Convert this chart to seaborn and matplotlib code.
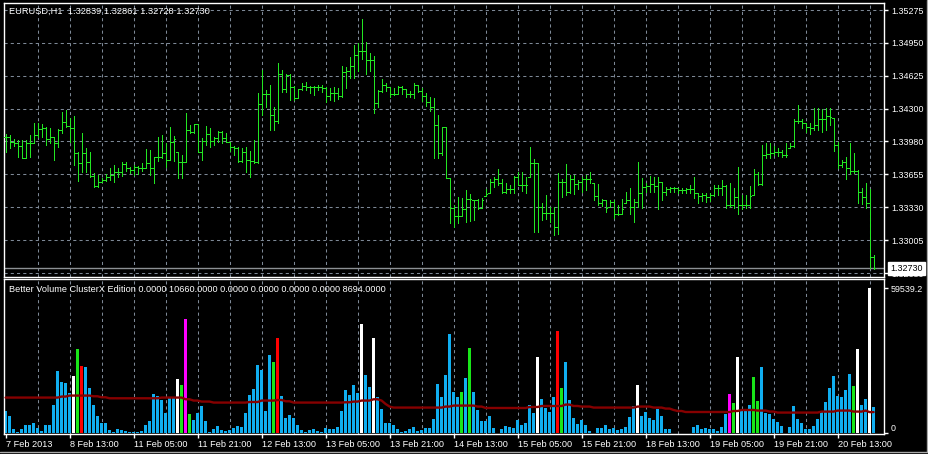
import numpy as np
import pandas as pd
import seaborn as sns
import matplotlib
matplotlib.use("Agg")
import matplotlib.pyplot as plt
from matplotlib.lines import Line2D

# EURUSD H1, 7 Feb 2013 21:00 .. 20 Feb 2013 22:00 (MT4 screenshot)
open_ = [
    1.3402, 1.3402, 1.3397, 1.3396, 1.3394, 1.3382, 1.3396, 1.3396, 1.3404, 1.3410,
    1.3411, 1.3400, 1.3402, 1.3396, 1.3409, 1.3417, 1.3413, 1.3411, 1.3387, 1.3377,
    1.3387, 1.3378, 1.3364, 1.3354, 1.3358, 1.3360, 1.3363, 1.3365, 1.3368, 1.3368,
    1.3376, 1.3372, 1.3370, 1.3373, 1.3372, 1.3372, 1.3377, 1.3372, 1.3383, 1.3383,
    1.3387, 1.3380, 1.3397, 1.3388, 1.3378, 1.3378, 1.3409, 1.3407, 1.3415, 1.3388,
    1.3398, 1.3405, 1.3398, 1.3401, 1.3407, 1.3401, 1.3397, 1.3393, 1.3392, 1.3379,
    1.3388, 1.3380, 1.3379, 1.3378, 1.3435, 1.3445, 1.3445, 1.3424, 1.3418, 1.3464,
    1.3450, 1.3463, 1.3452, 1.3441, 1.3450, 1.3453, 1.3452, 1.3452, 1.3452, 1.3452,
    1.3451, 1.3443, 1.3446, 1.3446, 1.3443, 1.3466, 1.3467, 1.3472, 1.3483, 1.3487,
    1.3487, 1.3478, 1.3478, 1.3436, 1.3448, 1.3454, 1.3452, 1.3445, 1.3445, 1.3452,
    1.3450, 1.3445, 1.3445, 1.3454, 1.3448, 1.3443, 1.3437, 1.3432, 1.3414, 1.3387,
    1.3412, 1.3362, 1.3332, 1.3325, 1.3325, 1.3331, 1.3341, 1.3340, 1.3340, 1.3332,
    1.3344, 1.3347, 1.3358, 1.3361, 1.3357, 1.3348, 1.3351, 1.3351, 1.3363, 1.3355,
    1.3355, 1.3363, 1.3377, 1.3377, 1.3333, 1.3328, 1.3328, 1.3328, 1.3314, 1.3358,
    1.3358, 1.3348, 1.3361, 1.3356, 1.3358, 1.3361, 1.3361, 1.3357, 1.3344, 1.3337,
    1.3340, 1.3333, 1.3338, 1.3327, 1.3327, 1.3337, 1.3340, 1.3333, 1.3338, 1.3347,
    1.3353, 1.3354, 1.3356, 1.3354, 1.3358, 1.3348, 1.3351, 1.3352, 1.3352, 1.3350,
    1.3350, 1.3351, 1.3351, 1.3347, 1.3344, 1.3345, 1.3343, 1.3345, 1.3352, 1.3352,
    1.3354, 1.3335, 1.3335, 1.3343, 1.3335, 1.3335, 1.3335, 1.3345, 1.3366, 1.3356,
    1.3385, 1.3386, 1.3387, 1.3388, 1.3388, 1.3385, 1.3392, 1.3394, 1.3418, 1.3418,
    1.3416, 1.3412, 1.3411, 1.3414, 1.3420, 1.3420, 1.3423, 1.3421, 1.3395, 1.3375,
    1.3378, 1.3372, 1.3369, 1.3369, 1.3348, 1.3343, 1.3337, 1.32839,
]
high = [
    1.3405, 1.3404, 1.3400, 1.3399, 1.3399, 1.3399, 1.3404, 1.3416, 1.3416, 1.3415,
    1.3412, 1.3411, 1.3402, 1.3410, 1.3427, 1.3429, 1.3421, 1.3423, 1.3388, 1.3406,
    1.3392, 1.3388, 1.3367, 1.3365, 1.3362, 1.3366, 1.3372, 1.3375, 1.3372, 1.3378,
    1.3378, 1.3373, 1.3375, 1.3374, 1.3377, 1.3391, 1.3390, 1.3383, 1.3402, 1.3404,
    1.3396, 1.3412, 1.3403, 1.3388, 1.3385, 1.3426, 1.3414, 1.3415, 1.3415, 1.3401,
    1.3413, 1.3411, 1.3402, 1.3408, 1.3408, 1.3406, 1.3397, 1.3394, 1.3393, 1.3392,
    1.3393, 1.3389, 1.3399, 1.3446, 1.3468, 1.3449, 1.3454, 1.3432, 1.3475, 1.3468,
    1.3464, 1.3464, 1.3453, 1.3450, 1.3456, 1.3457, 1.3453, 1.3453, 1.3454, 1.3454,
    1.3452, 1.3451, 1.3452, 1.3451, 1.3472, 1.3471, 1.3481, 1.3493, 1.3495, 1.3519,
    1.3496, 1.3485, 1.3482, 1.3449, 1.3460, 1.3456, 1.3452, 1.3451, 1.3453, 1.3453,
    1.3450, 1.3448, 1.3456, 1.3454, 1.3451, 1.3446, 1.3442, 1.3441, 1.3424, 1.3412,
    1.3412, 1.3362, 1.3335, 1.3343, 1.3342, 1.3350, 1.3346, 1.3340, 1.3341, 1.3342,
    1.3351, 1.3361, 1.3363, 1.3371, 1.3361, 1.3357, 1.3355, 1.3364, 1.3368, 1.3368,
    1.3363, 1.3393, 1.3381, 1.3377, 1.3337, 1.3345, 1.3333, 1.3333, 1.3367, 1.3361,
    1.3376, 1.3365, 1.3365, 1.3360, 1.3363, 1.3365, 1.3368, 1.3357, 1.3356, 1.3341,
    1.3340, 1.3340, 1.3340, 1.3335, 1.3341, 1.3348, 1.3352, 1.3341, 1.3378, 1.3362,
    1.3357, 1.3364, 1.3363, 1.3363, 1.3358, 1.3353, 1.3353, 1.3353, 1.3352, 1.3352,
    1.3352, 1.3355, 1.3363, 1.3347, 1.3347, 1.3347, 1.3347, 1.3355, 1.3355, 1.3360,
    1.3355, 1.3357, 1.3352, 1.3373, 1.3345, 1.3345, 1.3354, 1.3371, 1.3368, 1.3395,
    1.3396, 1.3396, 1.3394, 1.3392, 1.3390, 1.3396, 1.3396, 1.3420, 1.3434, 1.3420,
    1.3416, 1.3416, 1.3431, 1.3431, 1.3430, 1.3431, 1.3431, 1.3421, 1.3397, 1.3380,
    1.3383, 1.3396, 1.3387, 1.3370, 1.3352, 1.3357, 1.3351, 1.32861,
]
low = [
    1.3388, 1.3392, 1.3394, 1.3383, 1.3382, 1.3382, 1.3383, 1.3396, 1.3402, 1.3402,
    1.3395, 1.3396, 1.3380, 1.3393, 1.3406, 1.3412, 1.3397, 1.3375, 1.3359, 1.3368,
    1.3368, 1.3363, 1.3353, 1.3353, 1.3358, 1.3359, 1.3360, 1.3358, 1.3363, 1.3364,
    1.3369, 1.3367, 1.3365, 1.3366, 1.3369, 1.3372, 1.3365, 1.3357, 1.3379, 1.3382,
    1.3373, 1.3380, 1.3379, 1.3362, 1.3362, 1.3378, 1.3406, 1.3406, 1.3388, 1.3380,
    1.3395, 1.3393, 1.3395, 1.3397, 1.3396, 1.3397, 1.3389, 1.3385, 1.3378, 1.3378,
    1.3368, 1.3363, 1.3377, 1.3377, 1.3424, 1.3432, 1.3409, 1.3409, 1.3416, 1.3447,
    1.3447, 1.3439, 1.3439, 1.3441, 1.3449, 1.3449, 1.3446, 1.3444, 1.3449, 1.3447,
    1.3437, 1.3439, 1.3438, 1.3440, 1.3442, 1.3451, 1.3461, 1.3461, 1.3467, 1.3479,
    1.3464, 1.3467, 1.3426, 1.3432, 1.3447, 1.3448, 1.3442, 1.3444, 1.3445, 1.3445,
    1.3442, 1.3442, 1.3441, 1.3447, 1.3438, 1.3433, 1.3428, 1.3382, 1.3382, 1.3385,
    1.3362, 1.3318, 1.3314, 1.3318, 1.3325, 1.3319, 1.3320, 1.3321, 1.3331, 1.3332,
    1.3344, 1.3347, 1.3353, 1.3355, 1.3347, 1.3347, 1.3347, 1.3347, 1.3355, 1.3349,
    1.3347, 1.3363, 1.3309, 1.3309, 1.3321, 1.3322, 1.3319, 1.3306, 1.3307, 1.3343,
    1.3345, 1.3347, 1.3346, 1.3351, 1.3348, 1.3350, 1.3357, 1.3340, 1.3335, 1.3334,
    1.3329, 1.3333, 1.3323, 1.3326, 1.3327, 1.3337, 1.3327, 1.3319, 1.3333, 1.3332,
    1.3348, 1.3348, 1.3348, 1.3331, 1.3340, 1.3345, 1.3348, 1.3348, 1.3347, 1.3347,
    1.3347, 1.3347, 1.3342, 1.3337, 1.3339, 1.3338, 1.3339, 1.3344, 1.3345, 1.3345,
    1.3332, 1.3333, 1.3332, 1.3327, 1.3331, 1.3332, 1.3332, 1.3345, 1.3355, 1.3355,
    1.3382, 1.3382, 1.3385, 1.3384, 1.3383, 1.3383, 1.3392, 1.3393, 1.3416, 1.3411,
    1.3407, 1.3405, 1.3409, 1.3409, 1.3407, 1.3409, 1.3414, 1.3389, 1.3372, 1.3373,
    1.3361, 1.3366, 1.3367, 1.3337, 1.3336, 1.3332, 1.3273, 1.32728,
]
close = [
    1.3402, 1.3397, 1.3396, 1.3394, 1.3382, 1.3396, 1.3396, 1.3404, 1.3410, 1.3411,
    1.3400, 1.3402, 1.3396, 1.3409, 1.3417, 1.3413, 1.3411, 1.3387, 1.3377, 1.3387,
    1.3378, 1.3364, 1.3354, 1.3358, 1.3360, 1.3363, 1.3365, 1.3368, 1.3368, 1.3376,
    1.3372, 1.3370, 1.3373, 1.3372, 1.3372, 1.3377, 1.3372, 1.3383, 1.3383, 1.3387,
    1.3380, 1.3397, 1.3400, 1.3378, 1.3378, 1.3409, 1.3407, 1.3415, 1.3388, 1.3398,
    1.3405, 1.3398, 1.3401, 1.3407, 1.3401, 1.3397, 1.3393, 1.3392, 1.3379, 1.3388,
    1.3380, 1.3379, 1.3378, 1.3435, 1.3445, 1.3445, 1.3424, 1.3418, 1.3464, 1.3450,
    1.3463, 1.3452, 1.3441, 1.3450, 1.3453, 1.3452, 1.3452, 1.3452, 1.3452, 1.3451,
    1.3443, 1.3446, 1.3446, 1.3443, 1.3466, 1.3467, 1.3472, 1.3483, 1.3487, 1.3487,
    1.3478, 1.3478, 1.3436, 1.3448, 1.3454, 1.3452, 1.3445, 1.3445, 1.3452, 1.3450,
    1.3445, 1.3445, 1.3454, 1.3448, 1.3443, 1.3437, 1.3432, 1.3414, 1.3387, 1.3412,
    1.3362, 1.3332, 1.3325, 1.3325, 1.3331, 1.3341, 1.3341, 1.3340, 1.3332, 1.3340,
    1.3346, 1.3358, 1.3361, 1.3357, 1.3348, 1.3351, 1.3351, 1.3363, 1.3355, 1.3355,
    1.3355, 1.3377, 1.3377, 1.3333, 1.3328, 1.3328, 1.3328, 1.3314, 1.3358, 1.3358,
    1.3348, 1.3361, 1.3356, 1.3358, 1.3361, 1.3361, 1.3361, 1.3344, 1.3337, 1.3340,
    1.3332, 1.3338, 1.3327, 1.3327, 1.3331, 1.3340, 1.3333, 1.3338, 1.3347, 1.3353,
    1.3354, 1.3356, 1.3354, 1.3358, 1.3348, 1.3351, 1.3352, 1.3352, 1.3350, 1.3350,
    1.3351, 1.3351, 1.3347, 1.3344, 1.3345, 1.3343, 1.3345, 1.3352, 1.3352, 1.3354,
    1.3335, 1.3335, 1.3343, 1.3335, 1.3335, 1.3335, 1.3344, 1.3366, 1.3356, 1.3385,
    1.3386, 1.3387, 1.3388, 1.3388, 1.3385, 1.3385, 1.3394, 1.3418, 1.3418, 1.3416,
    1.3412, 1.3411, 1.3414, 1.3420, 1.3420, 1.3423, 1.3422, 1.3395, 1.3375, 1.3378,
    1.3372, 1.3369, 1.3369, 1.3348, 1.3343, 1.3337, 1.3284, 1.32730,
]

# tick volume per bar
volume = [
    9020, 6970, 1640, 410, 1640, 3280, 3280, 4100, 2050, 820,
    3280, 3280, 11480, 25420, 20910, 20500, 16400, 23370, 34440, 27470,
    27060, 18450, 11480, 6970, 4100, 4100, 1230, 410, 1640, 1230,
    820, 410, 410, 410, 820, 3280, 4920, 15990, 15170, 13530,
    8200, 14760, 14760, 22140, 19680, 46740, 7790, 5330, 8200, 11070,
    4920, 410, 1640, 2870, 1230, 820, 1230, 2050, 2870, 2460,
    8200, 15580, 18040, 27880, 25830, 9020, 31980, 29110, 38950, 15170,
    6150, 7380, 6150, 3280, 1230, 410, 1230, 1640, 820, 410,
    2050, 1640, 1640, 2460, 9020, 17630, 15580, 19680, 16400, 44690,
    23780, 18860, 38950, 14760, 9840, 4100, 4100, 3280, 1640, 410,
    820, 1640, 2460, 820, 1230, 2050, 2050, 5740, 20090, 14760,
    23780, 40590, 16810, 14760, 16810, 22550, 34850, 16810, 9430, 4920,
    4920, 6970, 2050, 200, 1640, 2870, 2460, 2050, 5330, 3280,
    4100, 11480, 8200, 31160, 13940, 10250, 8610, 14760, 41820, 18450,
    29110, 13530, 6150, 3690, 5330, 3280, 820, 200, 2050, 2050,
    3280, 1640, 2050, 1230, 1640, 2460, 6560, 11070, 19680, 6970,
    8610, 6150, 5330, 9840, 6970, 1640, 1640, 200, 150, 150,
    150, 200, 2460, 3280, 1640, 2050, 1640, 1640, 820, 2460,
    7790, 15990, 12300, 31160, 9020, 9020, 11480, 22960, 13120, 27060,
    8200, 7790, 5740, 4510, 2870, 200, 2460, 11070, 5740, 4100,
    1640, 1640, 2870, 5740, 9020, 12710, 18450, 23370, 15170, 14760,
    17630, 24190, 19270, 34440, 11480, 13940, 59539.2, 10660,
]

# average volume line of the indicator
avg_volume = [
    14640, 14640, 14640, 14640, 14640, 14640, 14640, 14640, 14640, 14640,
    14640, 14640, 14640, 14640, 15050, 15050, 15460, 15460, 15460, 15460,
    15460, 15460, 15170, 15170, 14760, 14760, 14350, 14350, 14350, 14350,
    14350, 14350, 14350, 14350, 14350, 14350, 14350, 14350, 14350, 14640,
    14640, 14640, 14640, 14640, 14640, 13940, 13940, 13410, 13410, 13000,
    13000, 13000, 12590, 12590, 12590, 12590, 12590, 12590, 12590, 12590,
    12590, 12830, 12830, 12830, 13410, 13410, 13410, 13410, 13650, 13650,
    13120, 13120, 12590, 12590, 12590, 12590, 12590, 12590, 12590, 12590,
    12590, 12590, 12590, 12590, 12590, 12710, 12710, 13000, 13000, 13410,
    13410, 13410, 13940, 13940, 13410, 12010, 10950, 10540, 10540, 10540,
    10540, 10540, 10540, 10540, 10540, 10540, 10540, 10540, 10540, 10540,
    10950, 10950, 11360, 11360, 11360, 11360, 11360, 11360, 10950, 10950,
    10370, 10370, 10370, 10370, 10370, 10370, 10370, 10370, 10370, 10370,
    10370, 10780, 10780, 10780, 11190, 11190, 11190, 11190, 11190, 11190,
    11770, 11770, 11190, 11190, 10950, 10950, 10950, 10540, 10540, 10540,
    10540, 10540, 10540, 10540, 10540, 10540, 10540, 10540, 10950, 10950,
    10950, 10950, 10540, 10540, 10540, 10130, 10130, 9550, 9140, 9140,
    8730, 8730, 8730, 8730, 8730, 8730, 8730, 8730, 8730, 8730,
    8730, 8730, 9140, 9140, 9550, 9550, 9550, 9550, 9310, 9310,
    9310, 8900, 8900, 8490, 8490, 8490, 8490, 8490, 8490, 8490,
    8490, 8490, 8490, 8490, 8900, 8900, 8900, 8900, 9310, 9310,
    9310, 9310, 8900, 8900, 8900, 9310, 8694, 8694,
]

# bars flagged by the indicator
climax_up_bars = [19, 68, 138]
climax_down_bars = [17, 43, 89, 92, 133, 158, 183, 213, 216]
churn_bars = [18, 44, 46, 67, 114, 116, 139, 182, 187, 188, 212]
climax_churn_bars = [45, 181]

price_levels = [1.35275, 1.34950, 1.34625, 1.34300, 1.33980,
                1.33655, 1.33330, 1.33005, 1.32680]
time_labels = ["7 Feb 2013", "8 Feb 13:00", "11 Feb 05:00", "11 Feb 21:00",
               "12 Feb 13:00", "13 Feb 05:00", "13 Feb 21:00", "14 Feb 13:00",
               "15 Feb 05:00", "15 Feb 21:00", "18 Feb 13:00", "19 Feb 05:00",
               "19 Feb 21:00", "20 Feb 13:00"]
time_label_bars = list(range(0, 209, 16))
volume_levels = [0, 59539.2]

BAR_GREEN = "#22e622"
GRID = "#7d8896"
palette = {"normal": "#10aef0", "climax_up": "#ff0000", "climax_down": "#ffffff",
           "churn": "#19e619", "climax_churn": "#ff00ff"}

n = len(close)
bars = np.arange(n)
signal = ["normal"] * n
for i in climax_up_bars:
    signal[i] = "climax_up"
for i in climax_down_bars:
    signal[i] = "climax_down"
for i in churn_bars:
    signal[i] = "churn"
for i in climax_churn_bars:
    signal[i] = "climax_churn"
df = pd.DataFrame({"bar": bars, "volume": volume, "signal": signal, "avg": avg_volume})

sns.set_style("dark", {"axes.facecolor": "black", "figure.facecolor": "black",
                       "axes.edgecolor": "white"})
plt.rcParams["font.family"] = ["Liberation Sans", "DejaVu Sans"]

W, H = 929, 454
fig = plt.figure(figsize=(W / 100, H / 100), dpi=100, facecolor="black")
ax = fig.add_axes([4 / W, 1 - 277.3 / H, 880 / W, 274 / H])
axv = fig.add_axes([4 / W, 1 - 434 / H, 880 / W, 154.7 / H])

x_lo, x_hi = -0.4, 219.6
vgrid = np.arange(8, n, 8)

# ---- price panel (OHLC bars, 1 px wide like the terminal draws them)
for lvl in price_levels:
    ax.axhline(lvl, color=GRID, lw=0.75, dashes=(3, 3), zorder=1)
for g in vgrid:
    ax.axvline(g, color=GRID, lw=0.75, dashes=(3, 3), zorder=1)
ax.axhline(close[-1], color="#8c9094", lw=1, zorder=2)
ax.vlines(bars, low, high, color=BAR_GREEN, lw=0.72, antialiased=False, zorder=3)
ax.hlines(open_, bars - 0.3, bars, color=BAR_GREEN, lw=0.72, antialiased=False, zorder=3)
ax.hlines(close, bars, bars + 0.3, color=BAR_GREEN, lw=0.72, antialiased=False, zorder=3)

ax.set_xlim(x_lo, x_hi)
ax.set_ylim(1.32642, 1.35341)
ax.set_xticks([])
ax.yaxis.tick_right()
ax.set_yticks(price_levels)
ax.set_yticklabels([f"{p:.5f}" for p in price_levels])
ax.tick_params(axis="y", colors="white", labelcolor="white", length=3, width=1,
               pad=2, labelsize=6.4, right=True, left=False)
ax.annotate(f"{close[-1]:.5f}", xy=(1, close[-1]), xycoords=("axes fraction", "data"),
            xytext=(4.5, 0), textcoords="offset points", ha="left", va="center",
            fontsize=6.4, color="black", annotation_clip=False, zorder=10,
            bbox=dict(boxstyle="square,pad=0.22", fc="white", ec="white"))
ax.text(0.006, 0.969,
        f"EURUSD,H1  {open_[-1]:.5f} {high[-1]:.5f} {low[-1]:.5f} {close[-1]:.5f}",
        transform=ax.transAxes, color="white", fontsize=6.7, va="center", ha="left")

# ---- volume panel
for g in vgrid:
    axv.axvline(g, color=GRID, lw=0.75, dashes=(3, 3), zorder=0)
sns.barplot(data=df, x="bar", y="volume", hue="signal", palette=palette,
            native_scale=True, dodge=False, width=0.7, linewidth=0,
            saturation=1, errorbar=None, legend=False, ax=axv, zorder=2)
sns.lineplot(data=df, x="bar", y="avg", color="#860000", lw=1.7, ax=axv, zorder=3)

axv.set_xlim(x_lo, x_hi)
axv.set_ylim(-290, 63110)
axv.set_xlabel("")
axv.set_ylabel("")
axv.yaxis.tick_right()
axv.set_yticks(volume_levels)
axv.set_yticklabels(["0", "59539.2"])
axv.get_yticklabels()[0].set_va("bottom")
axv.tick_params(axis="y", colors="white", labelcolor="white", length=3, width=1,
                pad=2, labelsize=6.4, right=True, left=False)
axv.set_xticks(time_label_bars)
axv.set_xticklabels(time_labels, ha="left")
axv.tick_params(axis="x", colors="white", labelcolor="white", length=3, width=1,
                pad=1.5, labelsize=6.6, bottom=True)
axv.text(0.006, 0.937,
         f"Better Volume ClusterX Edition {0:.4f} {volume[-1]:.4f} {0:.4f} {0:.4f} "
         f"{0:.4f} {0:.4f} {avg_volume[-1]:.4f}",
         transform=axv.transAxes, color="white", fontsize=6.6, va="center", ha="left")

for a in (ax, axv):
    a.grid(False)
    for s in a.spines.values():
        s.set_color("white")
        s.set_linewidth(1)
        s.set_visible(True)

# window frame
fig.add_artist(Line2D([0, 1], [1 - 452 / H] * 2, color="#a8a8a8", lw=1,
                      transform=fig.transFigure))
fig.add_artist(Line2D([1 - 2 / W] * 2, [1 - 452 / H, 1], color="#a8a8a8", lw=1,
                      transform=fig.transFigure))

fig.savefig("out.png", dpi=100, facecolor="black")
